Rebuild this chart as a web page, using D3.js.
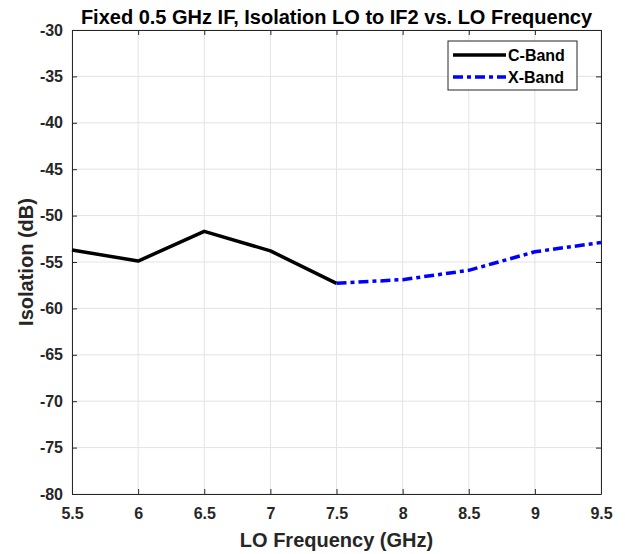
<!DOCTYPE html>
<html>
<head>
<meta charset="utf-8">
<script src="https://cdn.jsdelivr.net/npm/d3@7"></script>
<style>
  body { margin: 0; background: #fff; }
  text { font-family: "Liberation Sans", Arial, sans-serif; font-weight: bold; }
</style>
</head>
<body>
<div id="chart"></div>
<script>
const width = 625;
const height = 554;
const margin = { top: 30, right: 24, bottom: 60, left: 72 };

const cFreq = [5.5, 6, 6.5, 7, 7.5];
const cIso = [-53.7, -54.9, -51.7, -53.8, -57.3];
const xFreq = [7.5, 8, 8.5, 9, 9.5];
const xIso = [-57.3, -56.9, -55.9, -53.9, -52.9];
const xTicks = [5.5, 6, 6.5, 7, 7.5, 8, 8.5, 9, 9.5];
const yTicks = [-30, -35, -40, -45, -50, -55, -60, -65, -70, -75, -80];

const svg = d3.select("#chart")
    .append("svg")
    .attr("width", width)
    .attr("height", height);

const x = d3.scaleLinear().domain([5.5, 9.5]).range([margin.left, width - margin.right]);
const y = d3.scaleLinear().domain([-80, -30]).range([height - margin.bottom, margin.top]);

const x0 = x.range()[0], x1 = x.range()[1];
const y0 = y.range()[0], y1 = y.range()[1];

// grid
svg.append("g").selectAll("line")
    .data(xTicks)
    .enter().append("line")
    .attr("x1", d => x(d)).attr("x2", d => x(d))
    .attr("y1", y0).attr("y2", y1)
    .attr("stroke", "#e3e3e3").attr("stroke-width", 1);

svg.append("g").selectAll("line")
    .data(yTicks)
    .enter().append("line")
    .attr("x1", x0).attr("x2", x1)
    .attr("y1", d => y(d)).attr("y2", d => y(d))
    .attr("stroke", "#e3e3e3").attr("stroke-width", 1);

// axes
const axisColor = "#262626";
const styleAxis = g => {
    g.select(".domain").attr("stroke", axisColor);
    g.selectAll("line").attr("stroke", axisColor);
    g.selectAll("text")
        .attr("fill", "#262626")
        .attr("font-size", "16px")
        .attr("font-weight", "bold");
};
const fmt = d => String(d);

svg.append("g")
    .attr("transform", `translate(0,${y0})`)
    .call(d3.axisBottom(x).tickValues(xTicks).tickFormat(fmt).tickSizeInner(-5).tickSizeOuter(0).tickPadding(14))
    .call(styleAxis);

svg.append("g")
    .attr("transform", `translate(0,${y1})`)
    .call(d3.axisTop(x).tickValues(xTicks).tickFormat("").tickSizeInner(-5).tickSizeOuter(0))
    .call(styleAxis);

svg.append("g")
    .attr("transform", `translate(${x0},0)`)
    .call(d3.axisLeft(y).tickValues(yTicks).tickFormat(fmt).tickSizeInner(-5).tickSizeOuter(0).tickPadding(9))
    .call(styleAxis);

svg.append("g")
    .attr("transform", `translate(${x1},0)`)
    .call(d3.axisRight(y).tickValues(yTicks).tickFormat("").tickSizeInner(-5).tickSizeOuter(0))
    .call(styleAxis);

// lines
const line = d3.line().x(d => x(d[0])).y(d => y(d[1]));

svg.append("path")
    .datum(cFreq.map((f, i) => [f, cIso[i]]))
    .attr("d", line)
    .attr("fill", "none")
    .attr("stroke", "#000")
    .attr("stroke-width", 3.5)
    .attr("stroke-linejoin", "round");

svg.append("path")
    .datum(xFreq.map((f, i) => [f, xIso[i]]))
    .attr("d", line)
    .attr("fill", "none")
    .attr("stroke", "#0000ff")
    .attr("stroke-width", 3.5)
    .attr("stroke-dasharray", "10,4,4,4");

// title and labels
svg.append("text")
    .attr("x", (x0 + x1) / 2).attr("y", 24)
    .attr("text-anchor", "middle")
    .attr("font-size", "20px")
    .attr("fill", "#000")
    .text("Fixed 0.5 GHz IF, Isolation LO to IF2 vs. LO Frequency");

svg.append("text")
    .attr("x", (x0 + x1) / 2).attr("y", 547)
    .attr("text-anchor", "middle")
    .attr("font-size", "20px")
    .attr("fill", "#262626")
    .text("LO Frequency (GHz)");

svg.append("text")
    .attr("transform", `translate(33,${(y0 + y1) / 2}) rotate(-90)`)
    .attr("text-anchor", "middle")
    .attr("font-size", "20px")
    .attr("fill", "#262626")
    .text("Isolation (dB)");

// legend
const legend = svg.append("g").attr("transform", "translate(448,41)");
legend.append("rect")
    .attr("width", 129).attr("height", 49)
    .attr("fill", "#fff").attr("stroke", axisColor).attr("stroke-width", 1);

const legendItems = [
    { name: "C-Band", color: "#000", dash: null, dy: 14 },
    { name: "X-Band", color: "#0000ff", dash: "10,4,4,4", dy: 36 }
];
legendItems.forEach(it => {
    legend.append("line")
        .attr("x1", 5).attr("x2", 58)
        .attr("y1", it.dy).attr("y2", it.dy)
        .attr("stroke", it.color).attr("stroke-width", 3.5)
        .attr("stroke-dasharray", it.dash);
    legend.append("text")
        .attr("x", 60).attr("y", it.dy + 6)
        .attr("font-size", "16px")
        .attr("fill", "#000")
        .text(it.name);
});
</script>
</body>
</html>
